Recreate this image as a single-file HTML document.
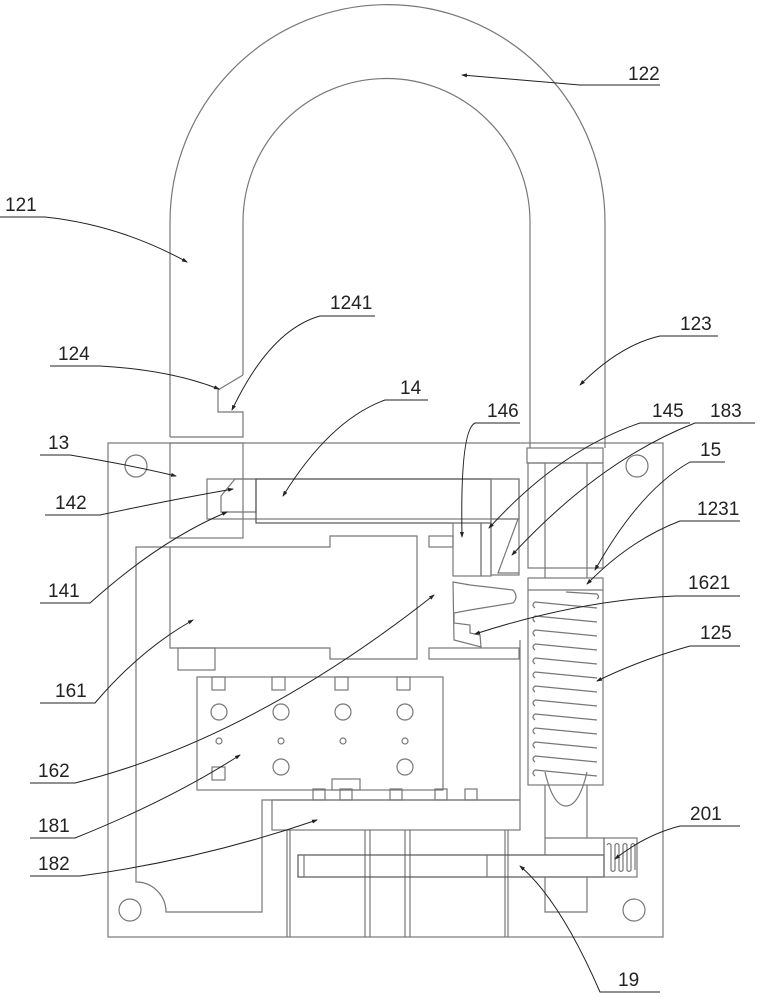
<!DOCTYPE html>
<html><head><meta charset="utf-8"><style>
html,body{margin:0;padding:0;background:#fff}
svg{display:block}
text{font-family:"Liberation Sans",sans-serif;font-size:19px;fill:#222}
</style></head><body>
<svg width="763" height="1000" viewBox="0 0 763 1000" xmlns="http://www.w3.org/2000/svg">
<defs><marker id="a" markerWidth="6" markerHeight="4" refX="5" refY="2" orient="auto"><path d="M0,0 L6,2 L0,4z" fill="#222"/></marker></defs>
<g fill="none" stroke="#777" stroke-width="1.2">
<path d="M170,437 L170,222 A217,217 0 0 1 605,222 L605,448"/>
<path d="M243,375 L243,222 A143.5,143.5 0 0 1 530,222 L530,448"/>
<path d="M170,437 L243,437 L243,412 L218,412 L218,390 L243,375"/>
<rect x="108" y="443" width="555" height="494"/>
<circle cx="136" cy="466" r="11"/><circle cx="637" cy="466" r="11"/>
<circle cx="130" cy="910" r="11"/><circle cx="634" cy="910" r="11"/>
<rect x="170" y="443" width="73" height="95"/>
<rect x="207" y="479" width="312" height="40"/>
<path d="M221,496 L235,479 L256,479 L256,512 L221,512 Z"/>
<rect x="256" y="479" width="235" height="44" stroke="#555"/>
<rect x="491" y="479" width="28" height="96"/>
<path d="M170,547 L136,547 L136,882 A30,30 0 0 1 166,912 L262,912 L262,800 L520,800 L520,640"/>
<path d="M170,547 L330,547 L330,536 L417,536 L417,659 L330,659 L330,648 L170,648 Z"/>
<rect x="178" y="648" width="37" height="22"/>
<rect x="429" y="536" width="24" height="11"/>
<rect x="429" y="648" width="90" height="11"/>
<rect x="453" y="523" width="28" height="53"/>
<rect x="481" y="523" width="10" height="53"/>
<path d="M491,519 L519,519 M518,519 L498,573 L519,573"/>
<path d="M453,582 L470,585 L513,590 Q519,597 513,603 L470,610 L454,613 L454,623 L470,625 L470,633 L480,635 L481,647 L454,640 Z"/>
<rect x="527" y="448" width="76" height="15"/>
<rect x="528" y="463" width="75" height="105"/>
<path d="M545,463 L545,578 M587,463 L587,578 M545,785 L545,838 M587,785 L587,838"/>
<rect x="528" y="578" width="75" height="207"/>
<line x1="528" y1="590" x2="603" y2="590"/>
<path d="M545,772 Q553,806 566,806 Q579,806 587,772"/>
<path d="M566,592 L597,594 Q600,597 597,599 M535,602 L597,608 M535,616 L597,622 M535,630 L597,636 M535,644 L597,650 M535,658 L597,664 M535,672 L597,678 M535,686 L597,692 M535,700 L597,706 M535,714 L597,720 M535,728 L597,734 M535,742 L597,748 M535,756 L597,762 M535,770 L597,776"/>
<path d="M535,602 q-4,3 0,6 M535,616 q-4,3 0,6 M535,630 q-4,3 0,6 M535,644 q-4,3 0,6 M535,658 q-4,3 0,6 M535,672 q-4,3 0,6 M535,686 q-4,3 0,6 M535,700 q-4,3 0,6 M535,714 q-4,3 0,6 M535,728 q-4,3 0,6 M535,742 q-4,3 0,6 M535,756 q-4,3 0,6 M535,770 q-4,3 0,6"/>
<rect x="197" y="677" width="246" height="113"/>
<rect x="212" y="677" width="13" height="13"/><rect x="272" y="677" width="13" height="13"/><rect x="335" y="677" width="13" height="13"/><rect x="397" y="677" width="13" height="13"/>
<circle cx="219" cy="712" r="8"/><circle cx="281" cy="712" r="8"/><circle cx="343" cy="712" r="8"/><circle cx="405" cy="712" r="8"/>
<circle cx="219" cy="741" r="3"/><circle cx="281" cy="741" r="3"/><circle cx="343" cy="741" r="3"/><circle cx="405" cy="741" r="3"/>
<rect x="212" y="767" width="13" height="13"/><circle cx="281" cy="767" r="8"/><circle cx="405" cy="767" r="8"/>
<rect x="332" y="779" width="28" height="11"/>
<rect x="313" y="789" width="12" height="11"/><rect x="340" y="789" width="12" height="11"/><rect x="390" y="789" width="12" height="11"/><rect x="435" y="789" width="12" height="11"/><rect x="465" y="789" width="12" height="11"/>
<rect x="272" y="800" width="248" height="30"/>
<path d="M287,830 L287,937 M290,830 L290,937 M365,830 L365,937 M370,830 L370,937 M405,830 L405,937 M410,830 L410,937 M505,830 L505,937 M508,830 L508,937"/>
<rect x="298" y="855" width="306" height="22" stroke="#555"/>
<line x1="304" y1="855" x2="304" y2="877"/><line x1="487" y1="855" x2="487" y2="877"/>
<path d="M545,855 L545,838 L604,838 L604,877 M545,877 L545,912 L587,912 L587,877"/>
<rect x="604" y="838" width="33" height="39"/>
<path d="M607,845 q2,-3 4,0 v25 q2,3 4,0 v-25 q2,-3 4,0 v25 q2,3 4,0 v-25 q2,-3 4,0 v25 q2,3 4,0 v-25 q2,-3 4,0 v25"/>
</g>
<g fill="none" stroke="#222" stroke-width="1">
<path d="M660,85 L580,85 Q520,80 462,75" marker-end="url(#a)"/>
<path d="M0,217 L45,217 Q120,225 187,262" marker-end="url(#a)"/>
<path d="M375,316 L320,316 Q270,330 232,410" marker-end="url(#a)"/>
<path d="M50,366 L100,366 Q170,370 219,389" marker-end="url(#a)"/>
<path d="M718,336 L660,336 Q620,345 580,385" marker-end="url(#a)"/>
<path d="M428,400 L385,400 Q330,420 283,496" marker-end="url(#a)"/>
<path d="M520,423 L475,423 Q460,430 462,537" marker-end="url(#a)"/>
<path d="M690,423 L640,423 Q560,450 489,528" marker-end="url(#a)"/>
<path d="M755,423 L695,423 Q600,460 512,555" marker-end="url(#a)"/>
<path d="M40,455 L70,455 Q130,465 176,476" marker-end="url(#a)"/>
<path d="M725,462 L690,462 Q640,490 595,570" marker-end="url(#a)"/>
<path d="M45,515 L100,515 Q170,500 233,489" marker-end="url(#a)"/>
<path d="M740,521 L680,521 Q630,540 587,584" marker-end="url(#a)"/>
<path d="M40,603 L90,603 Q160,540 227,512" marker-end="url(#a)"/>
<path d="M740,596 L675,596 Q580,600 475,634" marker-end="url(#a)"/>
<path d="M40,703 L95,703 Q140,650 193,620" marker-end="url(#a)"/>
<path d="M740,646 L690,646 Q640,660 597,681" marker-end="url(#a)"/>
<path d="M30,783 L75,783 Q250,740 434,595" marker-end="url(#a)"/>
<path d="M30,838 L75,838 Q170,800 240,755" marker-end="url(#a)"/>
<path d="M30,876 L80,876 Q200,860 317,820" marker-end="url(#a)"/>
<path d="M740,826 L680,826 Q645,835 615,859" marker-end="url(#a)"/>
<path d="M660,992 L600,992 Q560,900 520,866" marker-end="url(#a)"/>
</g>
<g>
<text x="628" y="80">122</text>
<text x="5" y="211">121</text>
<text x="330" y="309">1241</text>
<text x="58" y="360">124</text>
<text x="680" y="330">123</text>
<text x="400" y="394">14</text>
<text x="487" y="417">146</text>
<text x="652" y="417">145</text>
<text x="710" y="417">183</text>
<text x="48" y="449">13</text>
<text x="700" y="456">15</text>
<text x="55" y="509">142</text>
<text x="697" y="515">1231</text>
<text x="48" y="597">141</text>
<text x="688" y="589">1621</text>
<text x="55" y="697">161</text>
<text x="700" y="639">125</text>
<text x="38" y="777">162</text>
<text x="38" y="832">181</text>
<text x="38" y="870">182</text>
<text x="690" y="820">201</text>
<text x="618" y="986">19</text>
</g>
</svg>
</body></html>
